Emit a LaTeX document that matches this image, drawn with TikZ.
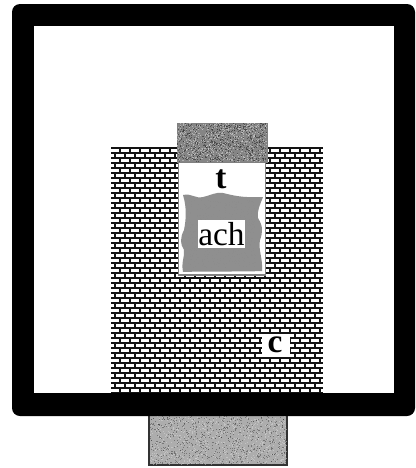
\documentclass[tikz,border=0pt]{standalone}
\usepackage{fontspec}
\setmainfont{Liberation Serif}
\definecolor{lidgray}{gray}{0.52}
\definecolor{matgray}{gray}{0.56}
\definecolor{basegray}{gray}{0.68}
\tikzset{
  frame/.style={fill=black,rounded corners=6},
  hole/.style={fill=white},
  label/.style={inner sep=0pt,font=\fontsize{25}{25}\selectfont},
}
\begin{document}
\begin{tikzpicture}[x=0.75pt,y=-0.75pt]
\useasboundingbox (0,0) rectangle (415,468);
\pgfmathsetseed{42}
\fill[white] (0,0) rectangle (415,468);
% base block
\fill[basegray] (149,410) rectangle (287,465);
\draw[line width=0.8pt,black!80] (149,410) rectangle (287,465);
\foreach \i in {1,...,1500}{
  \pgfmathsetmacro{\px}{150+rnd*136}\pgfmathsetmacro{\py}{416+rnd*48}
  \pgfmathsetmacro{\c}{rnd<0.5?15:75}
  \fill[black!\c!white,opacity=.5] (\px,\py) rectangle +(1,1);
}
% outer frame
\fill[frame] (12,4) rectangle (415,416);
\fill[hole] (34,26) rectangle (394,393);
% brick wall
\fill[black!92] (111,147) rectangle (323,393);
\begin{scope}
\clip (111,147) rectangle (323,393);
\foreach \r in {0,...,49}{
  \pgfmathsetmacro{\yy}{149+\r*5}
  \pgfmathsetmacro{\off}{mod(\r,2)*5}
  \foreach \k in {-1,...,22}{
    \fill[white] (111+\off+\k*10,\yy) rectangle +(8,3);
  }
}
\end{scope}
% chamber
\fill[white] (178,162) rectangle (266,275);
\draw[line width=1pt,black!50] (178.5,162) -- (178.5,275) -- (265.5,275) -- (265.5,162);
% material
\fill[matgray] (183,195) .. controls (192,193) and (195,199) .. (203,197)
  .. controls (212,195) and (215,192) .. (223,193)
  .. controls (232,195) and (240,198) .. (263,197)
  .. controls (260,205) and (257,210) .. (258,218)
  .. controls (263,226) and (263,232) .. (260,240)
  .. controls (258,250) and (263,258) .. (262,271)
  .. controls (240,272) and (210,271) .. (183,272)
  .. controls (181,262) and (185,256) .. (184,250)
  .. controls (180,244) and (180,238) .. (184,230)
  .. controls (186,220) and (187,208) .. cycle;
\foreach \i in {1,...,500}{
  \pgfmathsetmacro{\px}{187+rnd*68}\pgfmathsetmacro{\py}{200+rnd*68}
  \fill[black!45,opacity=.5] (\px,\py) rectangle +(1,1);
}
% lid
\fill[lidgray] (177,123) rectangle (267,162);
\draw[line width=0.6pt,black!50] (177,123) rectangle (267,162);
\foreach \i in {1,...,1300}{
  \pgfmathsetmacro{\px}{177+rnd*89}\pgfmathsetmacro{\py}{123+rnd*38}
  \pgfmathsetmacro{\c}{rnd<0.5?80:20}
  \fill[black!\c!white,opacity=.65] (\px,\py) rectangle +(1,1);
}
% labels
\node[label,font=\bfseries\fontsize{25}{25}\selectfont] (t) at (221,179) {t};
\fill[white] (198,220) rectangle (245,248);
\node[label] (ach) at (221.5,234) {ach};
\fill[white] (262,334) rectangle (290,357);
\node[label,font=\bfseries\fontsize{25}{25}\selectfont] (c) at (275,345) {c};
\end{tikzpicture}
\end{document}
